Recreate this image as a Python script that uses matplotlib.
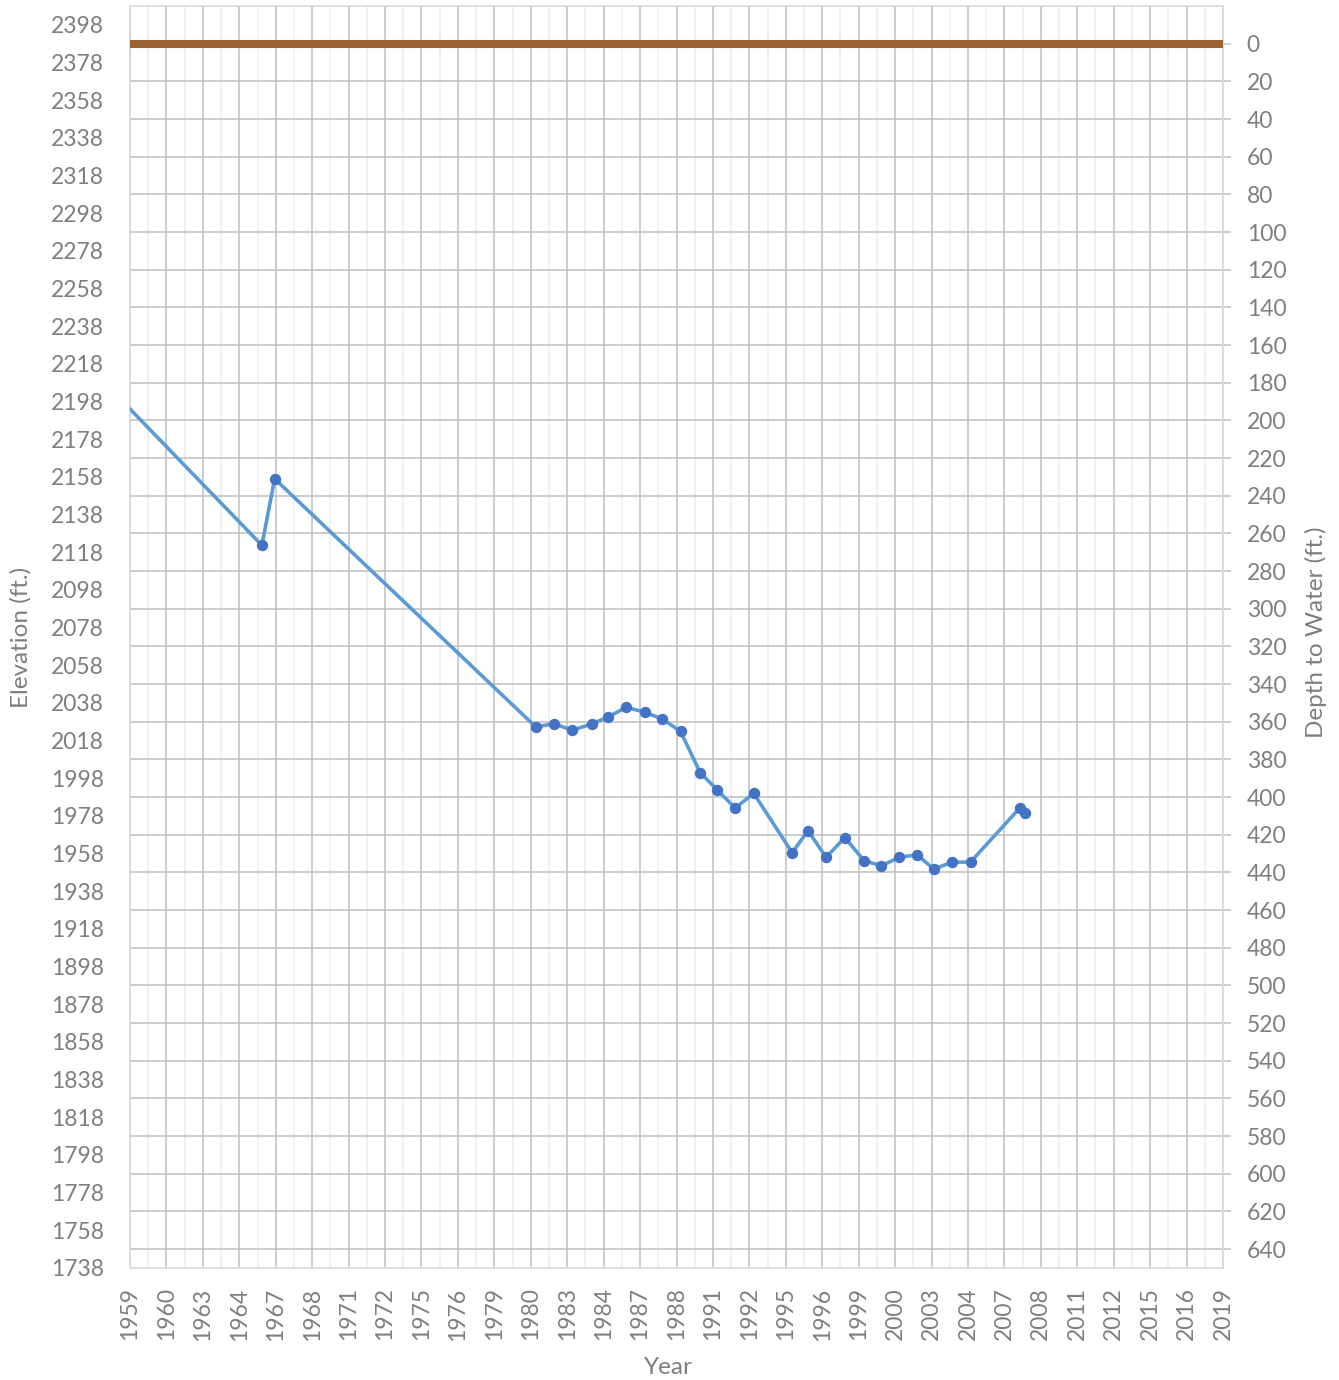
import numpy as np
import matplotlib
matplotlib.use("Agg")
import matplotlib.pyplot as plt
from matplotlib.ticker import FixedLocator

plt.rcParams['font.family'] = ['Lato', 'DejaVu Sans']

# water level record (decimal year, elevation ft.)
years = [1953.0, 1966.24, 1966.94, 1981.28, 1982.27, 1983.27, 1984.34, 1985.22,
         1986.24, 1987.28, 1988.21, 1989.22, 1990.30, 1991.23, 1992.22, 1993.24,
         1995.35, 1996.22, 1997.21, 1998.24, 1999.30, 2000.25, 2001.24, 2002.21,
         2003.12, 2004.15, 2005.14, 2007.86, 2008.12]
elevation = [2254.0, 2121.7, 2157.0, 2025.2, 2027.0, 2023.5, 2026.8, 2030.4,
             2035.7, 2033.0, 2029.5, 2022.9, 2001.0, 1991.9, 1982.2, 1990.0,
             1958.5, 1970.2, 1956.0, 1966.5, 1954.2, 1951.6, 1956.0, 1957.4,
             1949.8, 1953.5, 1953.5, 1982.4, 1979.4]

# land surface (depth 0) across the whole period
land_years = [1959, 2019]
land_depth = [0, 0]

x_labels = ['1959', '1960', '1963', '1964', '1967', '1968', '1971', '1972',
            '1975', '1976', '1979', '1980', '1983', '1984', '1987', '1988',
            '1991', '1992', '1995', '1996', '1999', '2000', '2003', '2004',
            '2007', '2008', '2011', '2012', '2015', '2016', '2019']

txt = '#7f7f7f'
fs = 16.5
tfs = 17.5

fig = plt.figure(figsize=(13.39, 13.80), dpi=100)
ax = fig.add_axes([130/1339, 1-1268/1380, 1093/1339, 1262/1380])
ax2 = ax.twinx()   # elevation axis, drawn above the grid

# primary axes: depth scale on the right, carries the grid
ax.yaxis.tick_right()
ax.set_xlim(1959, 2019)
ax.set_ylim(650, -20)
ax.set_yticks(np.arange(0, 641, 20))
ax.xaxis.set_major_locator(FixedLocator(np.arange(1959, 2020, 2)))
ax.set_xticklabels(x_labels, rotation=90)
ax.xaxis.set_minor_locator(FixedLocator(np.arange(1960, 2019, 2)))
ax.grid(True, which='major', axis='both', color='#bfbfbf', lw=1.1)
ax.grid(True, which='minor', axis='x', color='#ececec', lw=1.1)
ax.set_axisbelow(True)
ax.tick_params(axis='x', which='both', length=0, pad=14, labelsize=fs, labelcolor=txt)
ax.tick_params(axis='y', length=6, width=1.1, color='#bfbfbf', pad=11,
               labelsize=fs, labelcolor=txt)
for s in ax.spines.values():
    s.set_color('#d9d9d9')
    s.set_linewidth(1.2)

ax.plot(land_years, land_depth, color='#9c6332', lw=5.8, solid_capstyle='butt', zorder=3)

ax2.yaxis.tick_left()
ax2.set_ylim(1738, 2408)
ax2.set_yticks(np.arange(1738, 2399, 20))
ax2.tick_params(axis='y', length=0, pad=19, labelsize=fs, labelcolor=txt)
for s in ax2.spines.values():
    s.set_visible(False)

ax2.plot(years, elevation, color='#5b9bd5', lw=2.6, marker='o', ms=7.2,
         mfc='#4472c4', mec='#4472c4', zorder=4)

fig.text(21/1339, 1-637/1380, 'Elevation (ft.)', rotation=90, ha='center', va='center',
         fontsize=tfs, color=txt)
fig.text(1316/1339, 1-632/1380, 'Depth to Water (ft.)', rotation=90, ha='center',
         va='center', fontsize=tfs, color=txt)
fig.text(668/1339, 1-1367/1380, 'Year', ha='center', va='center', fontsize=tfs, color=txt)

fig.savefig('out.png', dpi=100)
